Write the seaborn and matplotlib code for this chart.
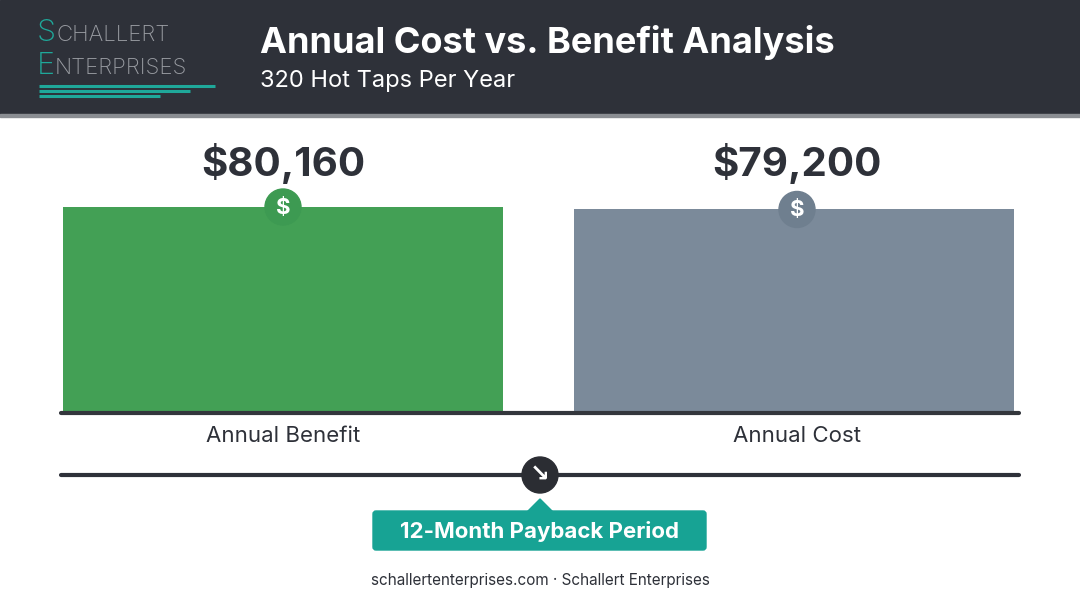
import matplotlib
matplotlib.use("Agg")
import matplotlib.pyplot as plt
import seaborn as sns
import pandas as pd
from matplotlib.patches import Rectangle, Circle, Polygon, FancyBboxPatch

categories = ["Annual Benefit", "Annual Cost"]
values = [80160, 79200]
value_labels = ["$80,160", "$79,200"]
title = "Annual Cost vs. Benefit Analysis"
subtitle = "320 Hot Taps Per Year"
callout = "12-Month Payback Period"
footer = "schallertenterprises.com · Schallert Enterprises"

sns.set_theme(style="white")
plt.rcParams['font.family'] = ['Inter', 'DejaVu Sans']

W, H = 1080, 603
fig = plt.figure(figsize=(10.8, 6.03), dpi=100)
fig.patch.set_facecolor("white")
bg = fig.add_axes([0, 0, 1, 1])
bg.set_xlim(0, W); bg.set_ylim(H, 0); bg.axis("off")

# header
bg.add_patch(Rectangle((0, 0), W, 116, color="#2e3139"))
bg.add_patch(Rectangle((0, 114), W, 3, color="#8a8d92"))
bg.text(37, 33, "S", color="#1fa89a", fontsize=22, va="center", ha="left", fontweight="light")
bg.text(56, 35, "CHALLERT", color="#9a9da3", fontsize=16, va="center", ha="left", fontweight="light")
bg.text(37, 66, "E", color="#1fa89a", fontsize=22, va="center", ha="left", fontweight="light")
bg.text(55, 68, "NTERPRISES", color="#9a9da3", fontsize=16, va="center", ha="left", fontweight="light")
for y, x2 in [(86, 215), (91, 190), (96, 160)]:
    bg.plot([39, x2], [y, y], color="#1fa89a", lw=2.2, solid_capstyle="butt")
bg.text(260, 42, title, color="white", fontsize=26, fontweight="bold", va="center", ha="left")
bg.text(260, 81, subtitle, color="white", fontsize=17, va="center", ha="left")

# bar axes
ax = fig.add_axes([61 / W, (H - 413) / H, 958 / W, 293 / H])
df = pd.DataFrame({"cat": categories, "val": values})
sns.barplot(data=df, x="cat", y="val", hue="cat", palette=["#43a055", "#7b8a9a"],
            width=0.862, legend=False, ax=ax, saturation=1, linewidth=0)
ax.set_xlim(-0.434, 1.440)
ax.set_ylim(0, 80160 * 293 / 206)
ax.axis("off")
ax.patch.set_alpha(0)

# overlay
ov = fig.add_axes([0, 0, 1, 1])
ov.set_xlim(0, W); ov.set_ylim(H, 0); ov.axis("off"); ov.patch.set_alpha(0)

ov.plot([61, 1019], [413, 413], color="#33363c", lw=3)
centers = [283, 797]
icol = ["#3d9a52", "#6f7f8f"]
for i, (c, lab, vl) in enumerate(zip(centers, categories, value_labels)):
    ytop = 413 - values[i] * 206 / 80160
    ov.add_patch(Circle((c, ytop), 18, color=icol[i], zorder=5))
    ov.text(c, ytop + 1, "$", color="white", fontsize=16, fontweight="bold", ha="center", va="center", zorder=6)
    ov.text(c, 163, vl, color="#2e3139", fontsize=29, fontweight="bold", ha="center", va="center")
    ov.text(c, 436, lab, color="#2e3139", fontsize=16, ha="center", va="center")

# timeline
ov.plot([61, 1019], [475, 475], color="#2e3139", lw=3)
ov.add_patch(Circle((540, 475), 18, color="#2b2d33", zorder=5))
ov.text(540, 475, "↘", color="white", fontsize=17, fontweight="bold", ha="center", va="center", zorder=6,
        family=["DejaVu Sans"])

# callout
ov.add_patch(FancyBboxPatch((373, 511), 333, 39, boxstyle="round,pad=0,rounding_size=3", color="#17a394"))
ov.add_patch(Polygon([(527, 512), (540, 499), (553, 512)], color="#17a394"))
ov.text(540, 531, callout, color="white", fontsize=16, fontweight="bold", ha="center", va="center")

ov.text(540, 581, footer, color="#2e3139", fontsize=11, ha="center", va="center")

fig.savefig("out.png", dpi=100)
